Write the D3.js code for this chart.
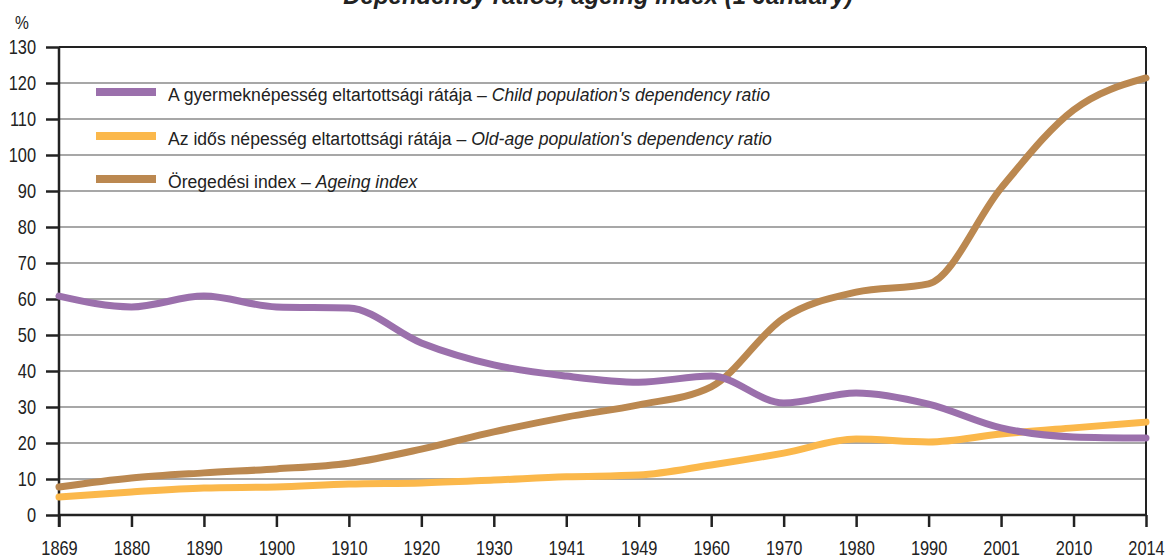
<!DOCTYPE html>
<html><head><meta charset="utf-8">
<script src="https://cdn.jsdelivr.net/npm/d3@7"></script>
<style>
body{margin:0;background:#fff;}
svg{display:block;}
</style></head>
<body><svg id="c" width="1166" height="560"></svg>
<script>
const years = ["1869","1880","1890","1900","1910","1920","1930","1941","1949","1960","1970","1980","1990","2001","2010","2014"];
const childRatio = [60.8,57.8,60.8,57.8,57.5,47.8,41.7,38.6,36.9,38.6,31.1,33.9,30.8,24.2,21.7,21.4];
const oldAgeRatio = [5.0,6.4,7.5,7.8,8.6,8.9,9.7,10.6,11.1,13.9,17.2,21.1,20.3,22.5,24.2,25.8];
const ageingIndex = [7.8,10.3,11.7,12.8,14.4,18.3,23.1,27.2,30.6,35.6,54.7,61.9,64.2,90.8,112.5,121.4];
const yTicks = [0,10,20,30,40,50,60,70,80,90,100,110,120,130];
const seriesNames = [
  ["A gyermeknépesség eltartottsági rátája – ","Child population's dependency ratio"],
  ["Az idős népesség eltartottsági rátája – ","Old-age population's dependency ratio"],
  ["Öregedési index – ","Ageing index"]
];
const colors = ["#9b70ac","#fbb84b","#bb8850"];
const titleText = "Dependency ratios, ageing index (1 January)";

const svg = d3.select("#c");
const L=59,R=1146,T=47,B=515;
const font = "'Liberation Sans',Arial,sans-serif";
const x = d3.scalePoint().domain(years).range([L,R]);
const y = d3.scaleLinear().domain([0,130]).range([B,T]);

function condense(sel, s){
  sel.each(function(){
    const t=d3.select(this);
    const tx=+t.attr("x")||0, ty=+t.attr("y")||0;
    t.attr("x",0).attr("y",0).attr("transform",`translate(${tx},${ty}) scale(${s},1)`);
  });
}

// title
svg.append("text").attr("x",598).attr("y",4).attr("text-anchor","middle")
  .attr("font-family",font).attr("font-weight","bold")
  .attr("font-style","italic").attr("font-size",24).attr("fill","#222").text(titleText);

// gridlines
svg.append("g").selectAll("line").data(yTicks.filter(d=>d>0&&d<130)).join("line")
  .attr("x1",L).attr("x2",R).attr("y1",d=>y(d)).attr("y2",d=>y(d))
  .attr("stroke","#8a8a8a").attr("stroke-width",1.5);

// frame top/right
svg.append("line").attr("x1",L).attr("x2",R).attr("y1",T).attr("y2",T).attr("stroke","#222").attr("stroke-width",2);
svg.append("line").attr("x1",R).attr("x2",R).attr("y1",T).attr("y2",B).attr("stroke","#222").attr("stroke-width",2);

// axes
const yAxis = svg.append("g").attr("transform",`translate(${L},0)`)
  .call(d3.axisLeft(y).tickValues(yTicks).tickSize(13).tickPadding(10));
const xAxis = svg.append("g").attr("transform",`translate(0,${B})`)
  .call(d3.axisBottom(x).tickSize(12).tickPadding(14));
[yAxis,xAxis].forEach(a=>{
  a.select(".domain").attr("stroke","#222").attr("stroke-width",2.5);
  a.selectAll(".tick line").attr("stroke","#222").attr("stroke-width",2.5);
  a.selectAll(".tick text").attr("font-family",font).attr("font-size",20).attr("fill","#222").call(condense,0.82);
});
xAxis.select(".domain").attr("d",`M${L},0H${R}`);
yAxis.select(".domain").attr("d",`M0,${B+12}V${T}`);

svg.append("text").attr("x",22).attr("y",29).attr("text-anchor","middle")
  .attr("font-family",font).attr("font-size",19).attr("fill","#222").text("%").call(condense,0.82);

// lines
const line = d3.line().x((d,i)=>x(years[i])).y(d=>y(d)).curve(d3.curveMonotoneX);
const series = [childRatio, oldAgeRatio, ageingIndex];
[2,1,0].forEach(k=>{
  svg.append("path").attr("d",line(series[k])).attr("fill","none")
    .attr("stroke",colors[k]).attr("stroke-width",7).attr("stroke-linecap","round")
    .attr("stroke-linejoin","round");
});

// legend
const ly = [92,136,179];
seriesNames.forEach((nm,i)=>{
  svg.append("rect").attr("x",96).attr("y",ly[i]-4).attr("width",60).attr("height",8).attr("fill",colors[i]);
  const t = svg.append("text").attr("x",168).attr("y",ly[i]+9)
    .attr("font-family",font).attr("font-size",17.6).attr("fill","#222");
  t.append("tspan").text(nm[0]);
  t.append("tspan").attr("font-style","italic").text(nm[1]);
  condense(t,1.0);
});
</script></body></html>
